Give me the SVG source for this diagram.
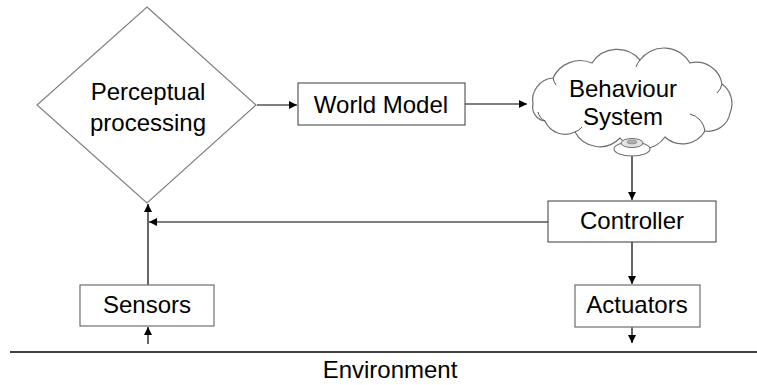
<svg xmlns="http://www.w3.org/2000/svg" width="757" height="385" viewBox="0 0 757 385">
<style>
  text { font-family: "Liberation Sans", Arial, sans-serif; font-size: 24px; fill: #000; text-anchor: middle; }
  .box { fill: #fff; stroke: #3a3a3a; stroke-width: 1; }
  .gbox { fill: #fff; stroke: #6e6e6e; stroke-width: 1.2; }
  .edge { fill: none; stroke: #000; stroke-width: 1.2; }
  .thin { fill: none; stroke: #555; stroke-width: 1; }
</style>
<defs>
  <marker id="arr" viewBox="0 0 10 10" refX="10" refY="5" markerWidth="10" markerHeight="8" markerUnits="userSpaceOnUse" orient="auto">
    <path d="M0,0 L10,5 L0,10 Z" fill="#000"/>
  </marker>
</defs>

<g id="connectors">
  <line class="edge" x1="257" y1="105" x2="297" y2="105" marker-end="url(#arr)"/>
  <line class="edge" x1="465" y1="104" x2="527" y2="104" marker-end="url(#arr)"/>
  <line class="edge" x1="632" y1="152" x2="632" y2="200" marker-end="url(#arr)"/>
  <line class="edge" x1="548" y1="222" x2="149" y2="222" marker-end="url(#arr)"/>
  <line class="edge" x1="148" y1="285" x2="148" y2="204" marker-end="url(#arr)"/>
  <line class="edge" x1="632" y1="242" x2="632" y2="284" marker-end="url(#arr)"/>
  <line class="edge" x1="148" y1="344" x2="148" y2="327" marker-end="url(#arr)"/>
  <line class="edge" x1="632" y1="327" x2="632" y2="343" marker-end="url(#arr)"/>
</g>

<g id="environment">
  <line x1="10" y1="352" x2="757" y2="352" stroke="#000" stroke-width="1.3"/>
  <text x="390" y="378">Environment</text>
</g>

<g id="perceptual">
  <polygon points="147,7 256,105 147,203 37,105" fill="#fff" stroke="#808080" stroke-width="1.2"/>
  <text x="148" y="100">Perceptual</text>
  <text x="148" y="131">processing</text>
</g>

<g id="worldmodel">
  <rect class="box" x="298" y="83" width="167" height="42"/>
  <text x="381" y="113">World Model</text>
</g>

<g id="behaviour">
  <path d="M533,104 A22,22 0 0 1 553,78 A30,30 0 0 1 592,63 A30,30 0 0 1 640,60 A30,30 0 0 1 690,63 A26,26 0 0 1 722,84 A24,24 0 0 1 730,113 A22,22 0 0 1 705,131 A26,26 0 0 1 665,137 A28,28 0 0 1 620,138 A28,28 0 0 1 575,132 A22,22 0 0 1 545,121 A14,14 0 0 1 533,104 Z" fill="#fff" stroke="#6e6e6e" stroke-width="1.2"/>
  <path class="thin" d="M545,121 A14,14 0 0 1 538,112"/>
  <path class="thin" d="M553,78 A18,18 0 0 0 556,85"/>
  <path class="thin" d="M640,60 A18,18 0 0 0 636,67"/>
  <path class="thin" d="M722,84 A16,16 0 0 1 717,93"/>
  <path class="thin" d="M705,131 A20,20 0 0 0 690,114"/>
  <path class="thin" d="M575,132 A16,16 0 0 0 582,127"/>
  <ellipse cx="632" cy="149" rx="18" ry="7" fill="#fff" stroke="#6e6e6e" stroke-width="1.1"/>
  <ellipse cx="632" cy="143" rx="11" ry="4.5" fill="#e4e4e4" stroke="#6e6e6e" stroke-width="1"/>
  <ellipse cx="632" cy="142" rx="5" ry="2" fill="#b0b0b0" stroke="#8a8a8a" stroke-width="0.8"/>
  <text x="623" y="97">Behaviour</text>
  <text x="623" y="125">System</text>
</g>

<g id="controller">
  <rect class="box" x="548" y="201" width="168" height="41"/>
  <text x="632" y="229">Controller</text>
</g>

<g id="sensors">
  <rect class="gbox" x="80" y="285" width="134" height="41"/>
  <text x="147" y="313">Sensors</text>
</g>

<g id="actuators">
  <rect class="gbox" x="575" y="285" width="125" height="42"/>
  <text x="637" y="313">Actuators</text>
</g>
</svg>
